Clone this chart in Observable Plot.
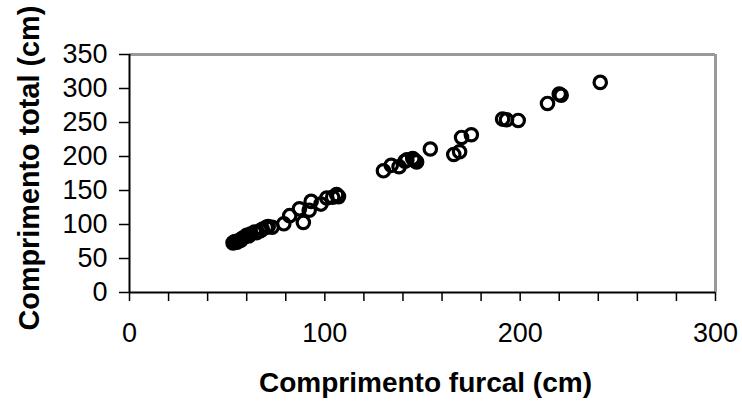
<!DOCTYPE html>
<html>
<head>
<meta charset="utf-8">
<script src="https://cdn.jsdelivr.net/npm/d3@7"></script>
<script src="https://cdn.jsdelivr.net/npm/@observablehq/plot@0.6"></script>
<style>
  html, body { margin: 0; padding: 0; background: #fff; }
  #chart { width: 742px; height: 401px; overflow: hidden; }
</style>
</head>
<body>
<div id="chart"></div>
<script>
// Comprimento furcal (cm)
const furcal = [53, 54, 55, 56, 57, 57, 58, 60, 61, 62, 64, 65, 67, 68, 70, 71, 73,
  79, 82, 89, 87, 92, 93, 98, 101, 104, 106, 107,
  130, 134, 138, 141, 142, 145, 146, 147, 154,
  166, 169, 170, 175, 191, 193, 199, 214, 220, 221, 241];
// Comprimento total (cm)
const total = [73, 75, 74, 76, 77, 78, 80, 84, 83, 86, 89, 88, 91, 93, 96, 97, 96,
  101, 113, 103, 123, 121, 134, 130, 139, 140, 144, 141,
  179, 187, 185, 193, 195, 197, 194, 192, 211,
  203, 207, 228, 232, 255, 254, 253, 278, 292, 290, 309];

const xTicks = d3.range(0, 301, 20);
const xLabels = [0, 100, 200, 300];
const yTicks = [0, 50, 100, 150, 200, 250, 300, 350];
const xTitle = "Comprimento furcal (cm)";
const yTitle = "Comprimento total (cm)";

const pts = furcal.map((f, i) => ({f, t: total[i]}));

const chart = Plot.plot({
  width: 742,
  height: 401,
  marginLeft: 129,
  marginRight: 27,
  marginTop: 54,
  marginBottom: 109,
  style: {fontFamily: "'Liberation Sans', Arial, sans-serif", fontSize: "27px", color: "#000", background: "#fff"},
  x: {domain: [0, 300]},
  y: {domain: [0, 350]},
  marks: [
    Plot.axisX({ticks: xTicks, tickSize: 9, tickPadding: 21, strokeWidth: 1.5,
      tickFormat: d => xLabels.includes(d) ? String(d) : "", label: null}),
    Plot.axisY({ticks: yTicks, tickSize: 10, tickPadding: 12, strokeWidth: 1.5,
      tickFormat: d => String(d), label: null}),
    Plot.ruleY([350], {stroke: "#999", strokeWidth: 3}),
    Plot.ruleX([300], {stroke: "#999", strokeWidth: 3}),
    Plot.ruleY([0], {stroke: "#000", strokeWidth: 2}),
    Plot.ruleX([0], {stroke: "#000", strokeWidth: 2}),
    Plot.dot(pts, {x: "f", y: "t", r: 6.2, stroke: "#000", strokeWidth: 3.2, fill: "none"}),
    Plot.text([xTitle], {frameAnchor: "bottom", text: d => d, dx: 3, dy: 91,
      fontSize: 28, fontWeight: "bold", lineAnchor: "middle", fill: "#000"}),
    Plot.text([yTitle], {frameAnchor: "left", text: d => d, rotate: -90, textAnchor: "start",
      dx: -100, dy: 157, fontSize: 28.8, fontWeight: "bold", lineAnchor: "middle", fill: "#000"})
  ]
});
document.getElementById("chart").appendChild(chart);
</script>
</body>
</html>
